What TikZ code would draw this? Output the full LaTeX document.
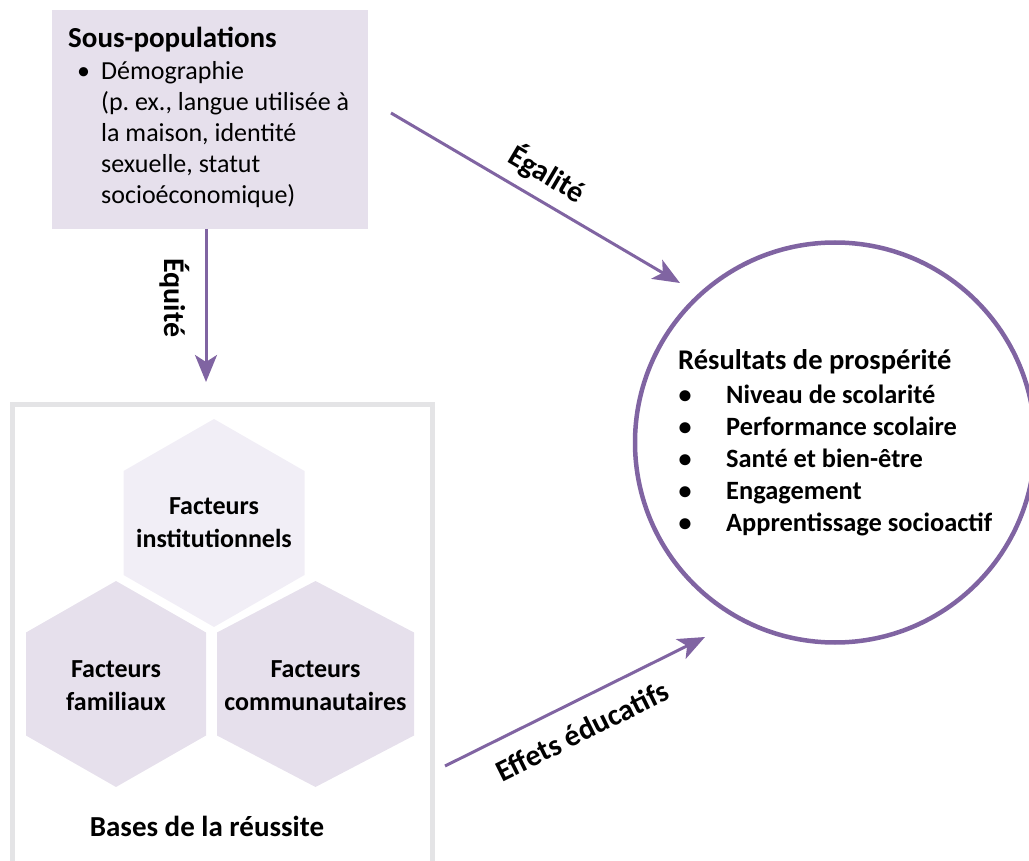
\documentclass[tikz,border=0pt]{standalone}
\usepackage{fontspec}
\setmainfont{Carlito}
\usetikzlibrary{arrows.meta}
\definecolor{purp}{HTML}{8064A2}
\definecolor{boxfill}{HTML}{E6E0EC}
\definecolor{hexlight}{HTML}{F1EEF6}
\definecolor{hexdark}{HTML}{E6E0EC}
\definecolor{framegray}{HTML}{E4E4E6}
\tikzset{
  txt/.style={font=\fontsize{26}{31}\selectfont, inner sep=0pt, text=black},
  btxt/.style={font=\fontsize{26}{33}\selectfont\bfseries, inner sep=0pt, text=black},
  bigtxt/.style={font=\fontsize{29}{33}\selectfont\bfseries, inner sep=0pt, text=black},
  lbl/.style={font=\fontsize{30}{33}\selectfont\bfseries, inner sep=0pt, text=black},
  conn/.style={draw=purp, line width=3pt, -{Stealth[length=27pt,width=22pt,inset=7pt]}},
}
\begin{document}
\frenchspacing
\begin{tikzpicture}[x=1pt,y=-1pt]
\useasboundingbox (0,0) rectangle (1029,861);
% frame
\draw[framegray, line width=5pt] (12.5,880) -- (12.5,404.5) -- (432.5,404.5) -- (432.5,880);
% top box
\node[fill=boxfill, minimum width=316pt, minimum height=219pt, inner sep=0pt, anchor=north west] (subbox) at (52,10) {};
\node[bigtxt, anchor=base west] (subtitle) at (68,48) {Sous-populations};
\node[txt, anchor=base] (subbul) at (83.5,80) {\textbullet};
\node[txt, anchor=base west] (l1) at (101,80) {Démographie};
\node[txt, anchor=base west] (l2) at (101,111) {(p. ex., langue utilisée à};
\node[txt, anchor=base west] (l3) at (101,142) {la maison, identité};
\node[txt, anchor=base west] (l4) at (101,173) {sexuelle, statut};
\node[txt, anchor=base west] (l5) at (101,204) {socioéconomique)};
% hexagons
\fill[hexlight] (214,419) -- (304.5,471) -- (304.5,575) -- (214,627) -- (123.5,575) -- (123.5,471) -- cycle;
\fill[hexdark] (116,581) -- (206,632.5) -- (206,735.5) -- (116,787) -- (26,735.5) -- (26,632.5) -- cycle;
\fill[hexdark] (315.5,581) -- (414,632.5) -- (414,735.5) -- (315.5,787) -- (217,735.5) -- (217,632.5) -- cycle;
\node[btxt, align=center] (inst) at (214,523) {Facteurs\\institutionnels};
\node[btxt, align=center] (fam) at (116,686) {Facteurs\\familiaux};
\node[btxt, align=center] (comm) at (315.5,686) {Facteurs\\communautaires};
\node[bigtxt, anchor=base] (bases) at (207,836) {Bases de la réussite};
% circle
\draw[purp, line width=4.5pt] (835,442.5) circle[radius=200];
\coordinate (circ) at (835,442.5);
\node[bigtxt, font=\fontsize{28.5}{33}\selectfont\bfseries, anchor=base west] (restitle) at (678,370) {Résultats de prospérité};
\foreach \t [count=\i] in {Niveau de scolarité,Performance scolaire,Santé et bien-être,Engagement,Apprentissage socioactif}{
  \node[btxt, font=\fontsize{26.4}{33}\selectfont\bfseries, anchor=base west] (item\i) at (726,371+32*\i) {\t};
  \node[btxt, anchor=base] (bul\i) at (685,371+32*\i) {\textbullet};
}
% arrows
\coordinate (eqS) at (206,229);
\coordinate (eqE) at (206,382);
\coordinate (egS) at (391,113);
\coordinate (egE) at (680,283);
\coordinate (efS) at (445,766);
\coordinate (efE) at (705,637);
\draw[conn] (eqS) -- (eqE);
\draw[conn] (egS) -- (egE);
\draw[conn] (efS) -- (efE);
\node[lbl, rotate=-90] (equite) at (175,298) {Équité};
\node[lbl, rotate=-30.5] (egalite) at (547,174) {Égalité};
\node[lbl, rotate=26.4] (effets) at (582,731) {Effets éducatifs};
\end{tikzpicture}
\end{document}
